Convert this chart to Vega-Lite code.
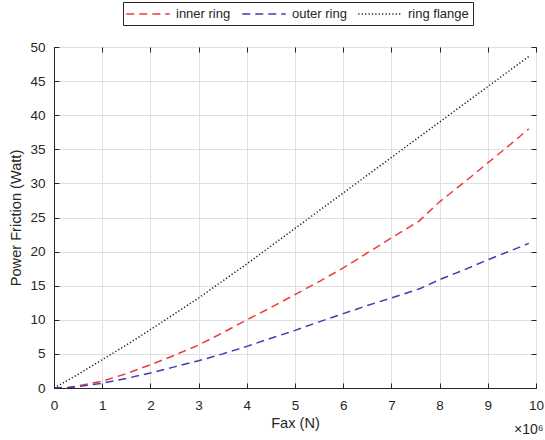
{
  "$schema": "https://vega.github.io/schema/vega-lite/v6.json",
  "autosize": {"type": "none"},
  "width": 482,
  "height": 341,
  "padding": {"left": 54, "top": 47, "right": 9, "bottom": 52},
  "background": "white",
  "config": {
    "view": {"stroke": "#262626", "strokeWidth": 1},
    "font": "Liberation Sans",
    "axis": {
      "labelFont": "Liberation Sans",
      "titleFont": "Liberation Sans",
      "labelFontSize": 13.5,
      "titleFontSize": 14.6,
      "titleFontWeight": "normal",
      "labelColor": "#262626",
      "titleColor": "#262626",
      "domainColor": "#262626",
      "tickColor": "#262626",
      "gridColor": "#e0e0e0",
      "gridWidth": 1
    }
  },
  "data": {
    "values": [
      {"fax": 0, "power": 0, "ring": "inner ring"},
      {"fax": 0.3, "power": 0.1, "ring": "inner ring"},
      {"fax": 0.5, "power": 0.3, "ring": "inner ring"},
      {"fax": 1, "power": 1.0, "ring": "inner ring"},
      {"fax": 1.5, "power": 2.1, "ring": "inner ring"},
      {"fax": 2, "power": 3.4, "ring": "inner ring"},
      {"fax": 2.5, "power": 4.8, "ring": "inner ring"},
      {"fax": 3, "power": 6.3, "ring": "inner ring"},
      {"fax": 3.5, "power": 8.1, "ring": "inner ring"},
      {"fax": 4, "power": 10.0, "ring": "inner ring"},
      {"fax": 4.5, "power": 11.8, "ring": "inner ring"},
      {"fax": 5, "power": 13.7, "ring": "inner ring"},
      {"fax": 5.5, "power": 15.6, "ring": "inner ring"},
      {"fax": 6, "power": 17.6, "ring": "inner ring"},
      {"fax": 6.5, "power": 19.8, "ring": "inner ring"},
      {"fax": 7, "power": 22.0, "ring": "inner ring"},
      {"fax": 7.56, "power": 24.4, "ring": "inner ring"},
      {"fax": 8, "power": 27.3, "ring": "inner ring"},
      {"fax": 8.5, "power": 30.1, "ring": "inner ring"},
      {"fax": 9, "power": 33.0, "ring": "inner ring"},
      {"fax": 9.5, "power": 35.9, "ring": "inner ring"},
      {"fax": 9.85, "power": 38.0, "ring": "inner ring"},
      {"fax": 0, "power": 0, "ring": "outer ring"},
      {"fax": 0.3, "power": 0.05, "ring": "outer ring"},
      {"fax": 0.5, "power": 0.2, "ring": "outer ring"},
      {"fax": 1, "power": 0.7, "ring": "outer ring"},
      {"fax": 1.5, "power": 1.4, "ring": "outer ring"},
      {"fax": 2, "power": 2.2, "ring": "outer ring"},
      {"fax": 2.5, "power": 3.1, "ring": "outer ring"},
      {"fax": 3, "power": 4.0, "ring": "outer ring"},
      {"fax": 3.5, "power": 5.0, "ring": "outer ring"},
      {"fax": 4, "power": 6.1, "ring": "outer ring"},
      {"fax": 4.5, "power": 7.3, "ring": "outer ring"},
      {"fax": 5, "power": 8.45, "ring": "outer ring"},
      {"fax": 5.5, "power": 9.7, "ring": "outer ring"},
      {"fax": 6, "power": 10.9, "ring": "outer ring"},
      {"fax": 6.5, "power": 12.1, "ring": "outer ring"},
      {"fax": 7, "power": 13.2, "ring": "outer ring"},
      {"fax": 7.6, "power": 14.6, "ring": "outer ring"},
      {"fax": 8, "power": 15.9, "ring": "outer ring"},
      {"fax": 8.5, "power": 17.3, "ring": "outer ring"},
      {"fax": 9, "power": 18.8, "ring": "outer ring"},
      {"fax": 9.5, "power": 20.2, "ring": "outer ring"},
      {"fax": 9.85, "power": 21.2, "ring": "outer ring"},
      {"fax": 0, "power": 0, "ring": "ring flange"},
      {"fax": 0.5, "power": 2.0, "ring": "ring flange"},
      {"fax": 1, "power": 4.15, "ring": "ring flange"},
      {"fax": 1.5, "power": 6.3, "ring": "ring flange"},
      {"fax": 2, "power": 8.55, "ring": "ring flange"},
      {"fax": 3, "power": 13.2, "ring": "ring flange"},
      {"fax": 4, "power": 18.2, "ring": "ring flange"},
      {"fax": 5, "power": 23.4, "ring": "ring flange"},
      {"fax": 6, "power": 28.6, "ring": "ring flange"},
      {"fax": 7, "power": 33.8, "ring": "ring flange"},
      {"fax": 8, "power": 39.0, "ring": "ring flange"},
      {"fax": 9, "power": 44.2, "ring": "ring flange"},
      {"fax": 9.85, "power": 48.6, "ring": "ring flange"}
    ]
  },
  "title": {
    "text": "×10⁶",
    "orient": "bottom",
    "anchor": "end",
    "font": "Liberation Sans",
    "fontSize": 14,
    "fontWeight": "normal",
    "color": "#262626",
    "offset": -7
  },
  "resolve": {"axis": {"x": "independent", "y": "independent"}},
  "layer": [
    {
      "mark": {"type": "line", "strokeWidth": 1.5, "clip": true},
      "encoding": {
        "x": {
          "field": "fax",
          "type": "quantitative",
          "scale": {"domain": [0, 10], "nice": false, "zero": false},
          "axis": {
            "title": "Fax (N)",
            "values": [0, 1, 2, 3, 4, 5, 6, 7, 8, 9, 10],
            "tickSize": -5,
            "labelPadding": 15,
            "titlePadding": 4,
            "labelFlush": false
          }
        },
        "y": {
          "field": "power",
          "type": "quantitative",
          "scale": {"domain": [0, 50], "nice": false},
          "axis": {
            "title": "Power Friction (Watt)",
            "values": [0, 5, 10, 15, 20, 25, 30, 35, 40, 45, 50],
            "tickSize": -5,
            "labelPadding": 14,
            "titlePadding": 6,
            "labelFlush": false
          }
        },
        "color": {
          "field": "ring",
          "type": "nominal",
          "scale": {"domain": ["inner ring", "outer ring", "ring flange"], "range": ["#ee3a3a", "#3a3fb6", "#1a1a1a"]},
          "legend": {
            "title": null,
            "orient": "none",
            "legendX": 69,
            "legendY": -45,
            "direction": "horizontal",
            "symbolType": "M-3.1,0H3.1",
            "symbolSize": 196,
            "symbolOffset": 13,
            "symbolStrokeWidth": 1.5,
            "labelFont": "Liberation Sans",
            "labelFontSize": 13,
            "labelColor": "#262626",
            "labelOffset": 20,
            "columnPadding": 8,
            "strokeColor": "#262626",
            "fillColor": "white",
            "padding": 4
          }
        },
        "strokeDash": {
          "field": "ring",
          "type": "nominal",
          "scale": {"domain": ["inner ring", "outer ring", "ring flange"], "range": [[8, 5], [8, 5], [1.2, 2.2]]},
          "legend": {
            "title": null,
            "orient": "none",
            "legendX": 69,
            "legendY": -45,
            "direction": "horizontal",
            "symbolType": "M-3.1,0H3.1",
            "symbolSize": 196,
            "symbolOffset": 13,
            "symbolStrokeWidth": 1.5,
            "labelFont": "Liberation Sans",
            "labelFontSize": 13,
            "labelColor": "#262626",
            "labelOffset": 20,
            "columnPadding": 8,
            "strokeColor": "#262626",
            "fillColor": "white",
            "padding": 4
          }
        }
      }
    },
    {
      "mark": {"type": "line", "opacity": 0},
      "encoding": {
        "x": {
          "field": "fax",
          "type": "quantitative",
          "axis": {
            "orient": "top",
            "title": null,
            "labels": false,
            "grid": false,
            "domain": false,
            "values": [0, 1, 2, 3, 4, 5, 6, 7, 8, 9, 10],
            "tickSize": -5
          }
        },
        "y": {
          "field": "power",
          "type": "quantitative",
          "axis": {
            "orient": "right",
            "title": null,
            "labels": false,
            "grid": false,
            "domain": false,
            "values": [0, 5, 10, 15, 20, 25, 30, 35, 40, 45, 50],
            "tickSize": -5
          }
        }
      }
    }
  ]
}
